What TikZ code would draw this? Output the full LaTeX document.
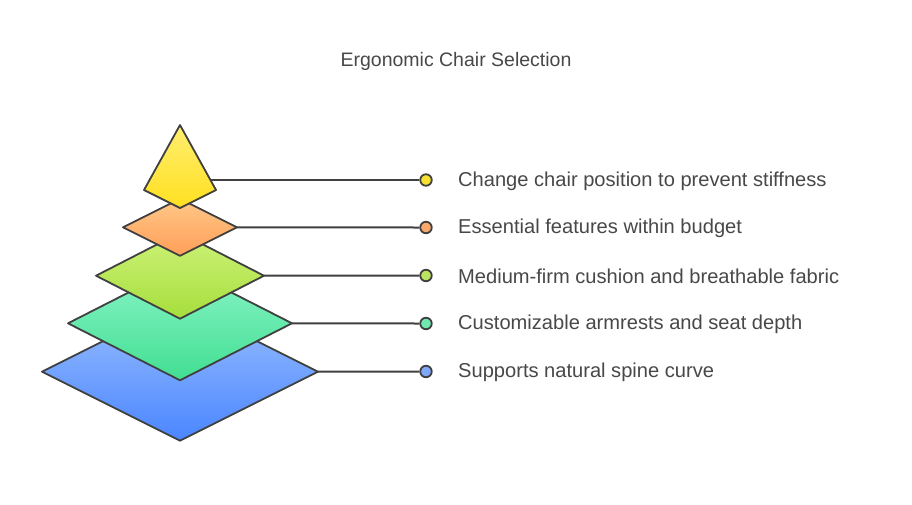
\documentclass[tikz,border=0pt]{standalone}
\usepackage{fontspec}
\setmainfont{Liberation Sans}
\definecolor{txt}{HTML}{484848}
\definecolor{edge}{HTML}{404040}
\definecolor{yA}{HTML}{FFEE70}\definecolor{yB}{HTML}{FFE020}\definecolor{yD}{HTML}{F7E030}
\definecolor{oA}{HTML}{FFC888}\definecolor{oB}{HTML}{FF9E58}\definecolor{oD}{HTML}{F8A86C}
\definecolor{gA}{HTML}{CDF278}\definecolor{gB}{HTML}{A6DE3C}\definecolor{gD}{HTML}{BCE460}
\definecolor{tA}{HTML}{8AF5C8}\definecolor{tB}{HTML}{42DE92}\definecolor{tD}{HTML}{70E8B0}
\definecolor{bA}{HTML}{9CC0FF}\definecolor{bB}{HTML}{4A86FF}\definecolor{bD}{HTML}{80A8F8}
\tikzset{
  layer/.style={draw=edge, line width=1.8pt, line join=round},
  conn/.style={draw=edge, line width=2pt},
  dot/.style={circle, draw=edge, line width=1.8pt, minimum size=11.5pt, inner sep=0pt},
  lbl/.style={anchor=west, inner sep=0pt, text=txt, font=\fontsize{20.1}{24}\selectfont},
}
\begin{document}
\begin{tikzpicture}[x=1pt,y=-1pt]
\useasboundingbox[fill=white] (0,0) rectangle (912,504);
\node[text=txt, font=\fontsize{19.5}{23}\selectfont] (title) at (456,61) {Ergonomic Chair Selection};
% layers, bottom first
\path[layer, top color=bA, bottom color=bB] (180,302.7) -- (318,371.7) -- (180,440.7) -- (42,371.7) -- cycle;
\coordinate (r5) at (318,371.7);
\path[layer, top color=tA, bottom color=tB] (180,266.3) -- (292,323.3) -- (180,380.3) -- (68,323.3) -- cycle;
\coordinate (r4) at (292,323.3);
\path[layer, top color=gA, bottom color=gB] (180,232.7) -- (264,275.7) -- (180,318.7) -- (96,275.7) -- cycle;
\coordinate (r3) at (264,275.7);
\path[layer, top color=oA, bottom color=oB] (180,198.8) -- (237,227.3) -- (180,255.8) -- (123,227.3) -- cycle;
\coordinate (r2) at (237,227.3);
\path[layer, top color=yA, bottom color=yB] (180,125) -- (216,190) -- (180,208) -- (144,190) -- cycle;
\coordinate (r1) at (210.5,180);
% dots
\node[dot, fill=yD] (d1) at (426,180) {};
\node[dot, fill=oD] (d2) at (426,227.5) {};
\node[dot, fill=gD] (d3) at (426,275.5) {};
\node[dot, fill=tD] (d4) at (426,323.5) {};
\node[dot, fill=bD] (d5) at (426,371.5) {};
\foreach \i in {1,...,5}{\draw[conn] (r\i) -- (d\i.west);}
% labels
\node[lbl] (l1) at (458,181) {Change chair position to prevent stiffness};
\node[lbl] (l2) at (458,228.5) {Essential features within budget};
\node[lbl] (l3) at (458,276.5) {Medium-firm cushion and breathable fabric};
\node[lbl] (l4) at (458,324.5) {Customizable armrests and seat depth};
\node[lbl] (l5) at (458,372.5) {Supports natural spine curve};
\end{tikzpicture}
\end{document}
